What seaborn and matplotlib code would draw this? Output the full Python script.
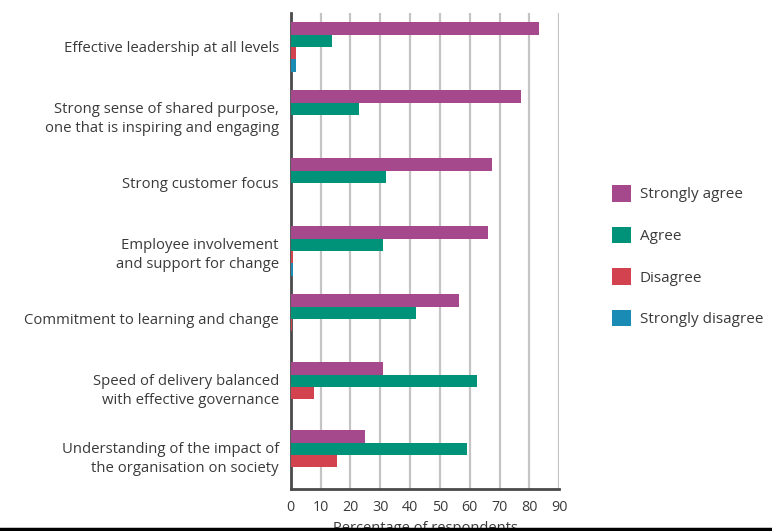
import matplotlib
matplotlib.use("Agg")
import matplotlib.pyplot as plt
from matplotlib.lines import Line2D
import seaborn as sns
import pandas as pd

categories = [
    "Effective leadership at all levels",
    "Strong sense of shared purpose,\none that is inspiring and engaging",
    "Strong customer focus",
    "Employee involvement\nand support for change",
    "Commitment to learning and change",
    "Speed of delivery balanced\nwith effective governance",
    "Understanding of the impact of\nthe organisation on society",
]
responses = ["Strongly agree", "Agree", "Disagree", "Strongly disagree"]
strongly_agree = [83.3, 77.0, 67.4, 66.2, 56.5, 31.0, 24.8]
agree = [13.8, 22.8, 32.0, 31.0, 42.0, 62.3, 59.2]
disagree = [1.7, 0.0, 0.0, 0.8, 0.6, 7.9, 15.5]
strongly_disagree = [1.7, 0.0, 0.0, 0.8, 0.0, 0.0, 0.0]
x_ticks = [0, 10, 20, 30, 40, 50, 60, 70, 80, 90]
x_label = "Percentage of respondents"

colors = ["#A6498C", "#00937A", "#D2434F", "#1A8BB5"]

rows = []
for series, vals in zip(responses, [strongly_agree, agree, disagree, strongly_disagree]):
    for c, v in zip(categories, vals):
        rows.append({"category": c, "response": series, "value": v})
df = pd.DataFrame(rows)

sns.set_theme(style="white")
plt.rcParams["font.family"] = ["Open Sans", "DejaVu Sans"]
text_color = "#3a3a3a"

fig = plt.figure(figsize=(7.72, 5.31), dpi=100)
ax = fig.add_axes([290.7 / 772, 1 - 489 / 531, (559.3 - 290.7) / 772, (489 - 13) / 531])

sns.barplot(data=df, y="category", x="value", hue="response", order=categories,
            hue_order=responses, palette=colors, orient="h", width=0.73,
            saturation=1, ax=ax, legend=True, linewidth=0, zorder=3)

ax.set_xlim(0, 90)
ax.set_ylim(6.5, -0.5)
ax.set_xticks(x_ticks)
ax.set_xticklabels([str(t) for t in x_ticks])
ax.grid(axis="x", color="#c4c4c4", linewidth=1.6, zorder=0)
ax.grid(axis="y", visible=False)
ax.set_axisbelow(True)

for s in ["top", "right"]:
    ax.spines[s].set_visible(False)
for s in ["left", "bottom"]:
    ax.spines[s].set_color("#4a4a4a")
    ax.spines[s].set_linewidth(2)

ax.set_yticks(range(len(categories)))
ax.set_yticklabels(categories, fontsize=10.7, color=text_color, ha="right",
                   multialignment="right", linespacing=1.4)
ax.set_yticks([i - 0.5 for i in range(len(categories) + 1)], minor=True)
ax.tick_params(axis="y", which="major", length=0, pad=8.5)
ax.tick_params(axis="y", which="minor", length=7, width=1.6, color="#4a4a4a", direction="out")
ax.tick_params(axis="x", which="major", length=0, pad=8, labelsize=10.3, labelcolor=text_color)

ax.set_ylabel("")
ax.set_xlabel(x_label, fontsize=10.5, color=text_color)
ax.xaxis.set_label_coords(0.5, -0.067)

handles, labels = ax.get_legend_handles_labels()
ax.legend(handles, labels, loc="upper left", bbox_to_anchor=(611.5 / 772, 1 - 185 / 531),
          bbox_transform=fig.transFigure, frameon=False, fontsize=11,
          handlelength=1.3, handleheight=1.3, labelspacing=1.58, handletextpad=0.55,
          labelcolor=text_color, borderaxespad=0, borderpad=0)

fig.add_artist(Line2D([0, 1], [2.5 / 531, 2.5 / 531], transform=fig.transFigure,
                      color="black", linewidth=2.5))

fig.savefig("out.png", dpi=100)
